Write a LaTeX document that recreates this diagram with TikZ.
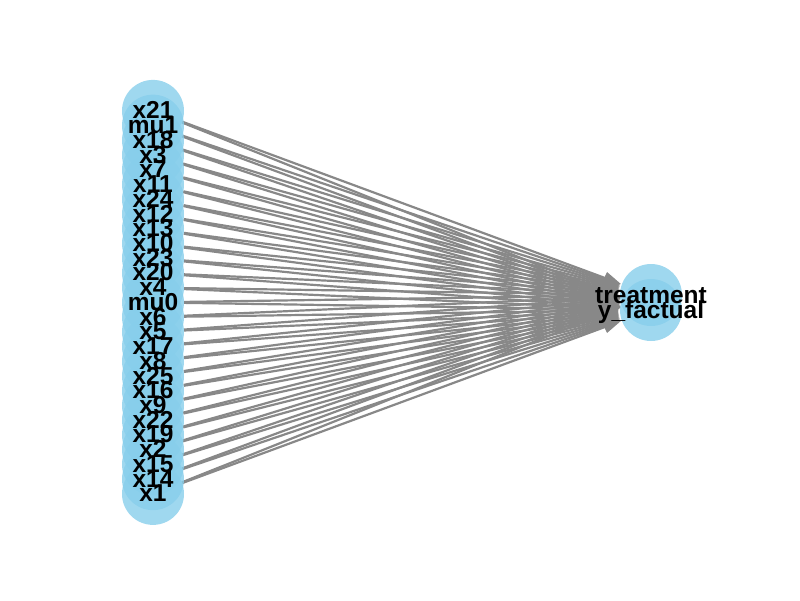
\documentclass[tikz,border=0pt]{standalone}
\usepackage{fontspec}
\setmainfont{Liberation Sans}
\usetikzlibrary{arrows.meta,backgrounds}
\definecolor{skyblue}{RGB}{135,206,235}
\definecolor{edgegray}{RGB}{136,136,136}
\tikzset{
  vnode/.style={circle,minimum size=62pt,inner sep=0pt,fill=skyblue,fill opacity=0.8,draw=none},
  lbl/.style={anchor=base,inner sep=0pt,font=\fontsize{24.5}{25}\selectfont\bfseries,text=black},
  edge/.style={draw=edgegray,line width=2.2pt,-{Triangle[length=17pt,width=12pt]},shorten >=1pt}
}
\begin{document}
\begin{tikzpicture}[x=1pt,y=-1pt]
\useasboundingbox (0,0) rectangle (800,600);
\foreach \name [count=\i from 0] in {x21,mu1,x18,x3,x7,x11,x24,x12,x13,x10,x23,x20,x4,mu0,x6,x5,x17,x8,x25,x16,x9,x22,x19,x2,x15,x14,x1}{
  \node[vnode] (n\i) at (153,{110.9+14.73*\i}) {};
}
\node[vnode] (t) at (651,295) {};
\node[vnode] (yf) at (651,310) {};
\begin{scope}[on background layer]
\foreach \i in {0,...,26}{
  \draw[edge] (n\i) -- (t);
  \draw[edge] (n\i) -- (yf);
}
\end{scope}
\foreach \name [count=\i from 0] in {x21,mu1,x18,x3,x7,x11,x24,x12,x13,x10,x23,x20,x4,mu0,x6,x5,x17,x8,x25,x16,x9,x22,x19,x2,x15,x14,x1}{
  \node[lbl] (l\i) at ([yshift=-8pt]n\i.center) {\name};
}
\node[lbl] (lt) at ([yshift=-8pt]t.center) {treatment};
\node[lbl] (lyf) at ([yshift=-8pt]yf.center) {y\_factual};
\end{tikzpicture}
\end{document}
